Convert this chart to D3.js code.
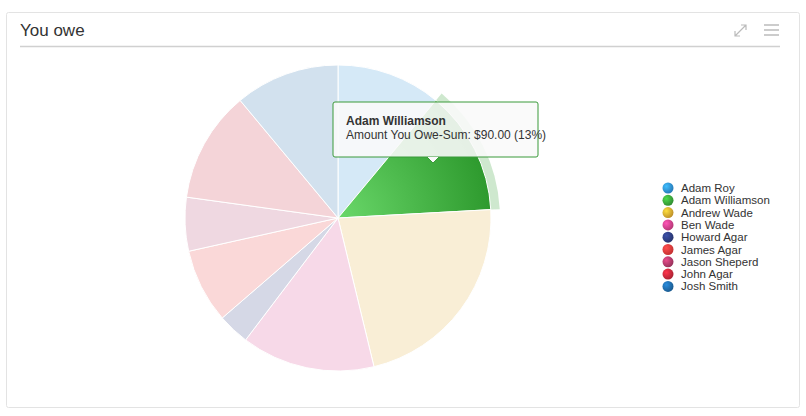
<!DOCTYPE html>
<html><head><meta charset="utf-8">
<script src="https://cdn.jsdelivr.net/npm/d3@7"></script>
<style>body{margin:0;background:#fff;font-family:Arial,"Liberation Sans",sans-serif}</style>
</head><body><svg id="c" width="806" height="416"></svg>
<script>
const names=["Adam Roy","Adam Williamson","Andrew Wade","Ben Wade","Howard Agar","James Agar","Jason Sheperd","John Agar","Josh Smith"];
const values=[76,90,152,97,23,54,39,81,76];
const colors=["#2f8fd8","#3aa53a","#e0a830","#d6408a","#2e3d80","#e83a3a","#b03a6a","#c8283a","#1f6aa8"];
const hovered=1;
const svg=d3.select("#c");
svg.append("rect").attr("x",6.5).attr("y",12.5).attr("width",793).attr("height",395).attr("fill","#fff").attr("stroke","#e3e3e3").attr("rx",2);
svg.append("text").attr("x",20).attr("y",36).attr("font-size",17).attr("fill","#333").text("You owe");
svg.append("line").attr("x1",20).attr("x2",780).attr("y1",46.5).attr("y2",46.5).attr("stroke","#d0d0d0").attr("stroke-width",1.5);
const ic=svg.append("g").attr("stroke","#bbb").attr("fill","none").attr("stroke-width",1.2);
ic.append("path").attr("d","M735,36 L746,25 M741,25 L746,25 L746,30 M735,31 L735,36 L740,36");
[25,30,35].forEach(y=>ic.append("line").attr("x1",764).attr("x2",779).attr("y1",y).attr("y2",y).attr("stroke-width",1.5));
const defs=svg.append("defs");
const gr=defs.append("radialGradient").attr("id","gg").attr("gradientUnits","userSpaceOnUse").attr("cx",0).attr("cy",0).attr("r",153);
gr.append("stop").attr("offset","0%").attr("stop-color","#6ad86a");
gr.append("stop").attr("offset","100%").attr("stop-color","#2e9a2e");
colors.forEach((c,i)=>{const g=defs.append("radialGradient").attr("id","b"+i).attr("cx","35%").attr("cy","35%").attr("r","70%");
g.append("stop").attr("offset","0%").attr("stop-color",d3.color(c).brighter(0.8));
g.append("stop").attr("offset","100%").attr("stop-color",d3.color(c).darker(0.5));});
const cx=338,cy=218,r=153;
const pie=d3.pie().sort(null)(values);
const arc=d3.arc().innerRadius(0).outerRadius(r);
const g=svg.append("g").attr("transform",`translate(${cx},${cy})`);
const halo=d3.arc().innerRadius(r).outerRadius(r+9);
g.append("path").attr("d",halo(pie[hovered])).attr("fill",colors[hovered]).attr("opacity",0.25);
g.selectAll("path.s").data(pie).join("path").attr("class","s").attr("d",arc)
 .attr("fill",(d,i)=>i===hovered?"url(#gg)":colors[i]).attr("fill-opacity",(d,i)=>i===hovered?1:0.2)
 .attr("stroke","#fff").attr("stroke-width",1);
const lg=svg.append("g");
names.forEach((n,i)=>{const y=188+i*12.3;
 lg.append("circle").attr("cx",668).attr("cy",y).attr("r",5.5).attr("fill","url(#b"+i+")");
 lg.append("text").attr("x",681).attr("y",y+4).attr("font-size",11.5).attr("fill","#333").text(n);});
const tc=pie[hovered].data, pct=Math.round(tc/d3.sum(values)*100);
const tt=svg.append("g");
tt.append("rect").attr("x",333).attr("y",102).attr("width",205).attr("height",55).attr("rx",2).attr("fill","rgba(250,250,250,0.9)").attr("stroke","#3a9a3a");
tt.append("path").attr("d","M427,157 L433,163 L439,157").attr("fill","#fafafa").attr("stroke","#3a9a3a");
tt.append("text").attr("x",346).attr("y",125).attr("font-size",12).attr("font-weight","bold").attr("fill","#333").text(names[hovered]);
tt.append("text").attr("x",346).attr("y",139).attr("font-size",12).attr("fill","#333").text(`Amount You Owe-Sum: $${tc.toFixed(2)} (${pct}%)`);
</script></body></html>
